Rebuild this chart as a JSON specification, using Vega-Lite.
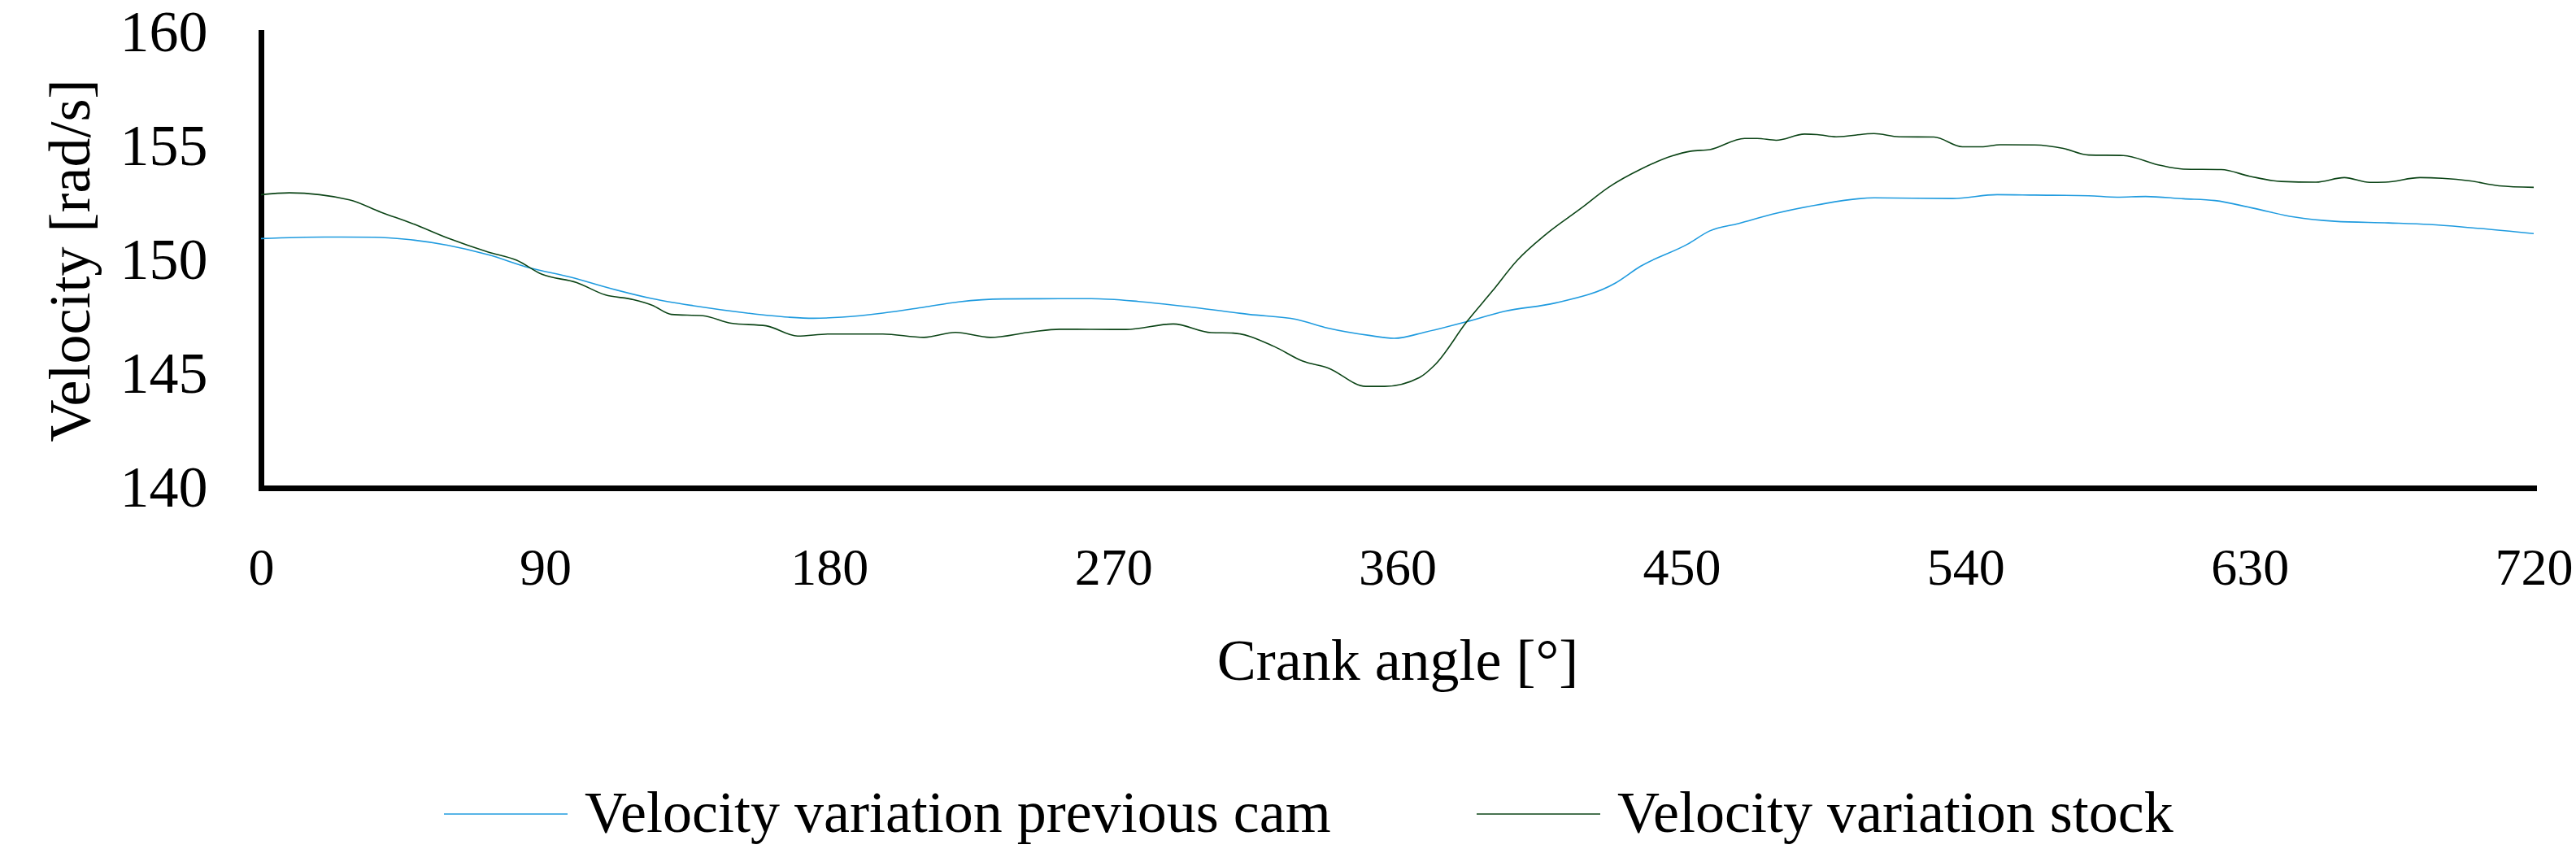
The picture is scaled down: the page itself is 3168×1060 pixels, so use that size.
{
  "$schema": "https://vega.github.io/schema/vega-lite/v6.json",
  "autosize": {"type": "none"},
  "width": 2795,
  "height": 560,
  "padding": {"left": 321, "top": 40, "right": 52, "bottom": 460},
  "background": "#ffffff",
  "data": {
    "values": [
      {"angle": 0, "velocity": 150.95, "series": "Velocity variation previous cam"},
      {"angle": 20, "velocity": 151.02, "series": "Velocity variation previous cam"},
      {"angle": 36, "velocity": 151.01, "series": "Velocity variation previous cam"},
      {"angle": 46, "velocity": 150.92, "series": "Velocity variation previous cam"},
      {"angle": 59, "velocity": 150.66, "series": "Velocity variation previous cam"},
      {"angle": 72, "velocity": 150.24, "series": "Velocity variation previous cam"},
      {"angle": 85, "velocity": 149.67, "series": "Velocity variation previous cam"},
      {"angle": 98, "velocity": 149.26, "series": "Velocity variation previous cam"},
      {"angle": 111, "velocity": 148.75, "series": "Velocity variation previous cam"},
      {"angle": 124, "velocity": 148.31, "series": "Velocity variation previous cam"},
      {"angle": 137, "velocity": 148.0, "series": "Velocity variation previous cam"},
      {"angle": 154, "velocity": 147.68, "series": "Velocity variation previous cam"},
      {"angle": 167, "velocity": 147.5, "series": "Velocity variation previous cam"},
      {"angle": 175, "velocity": 147.45, "series": "Velocity variation previous cam"},
      {"angle": 184, "velocity": 147.5, "series": "Velocity variation previous cam"},
      {"angle": 197, "velocity": 147.68, "series": "Velocity variation previous cam"},
      {"angle": 210, "velocity": 147.94, "series": "Velocity variation previous cam"},
      {"angle": 221, "velocity": 148.17, "series": "Velocity variation previous cam"},
      {"angle": 235, "velocity": 148.3, "series": "Velocity variation previous cam"},
      {"angle": 253, "velocity": 148.31, "series": "Velocity variation previous cam"},
      {"angle": 263, "velocity": 148.31, "series": "Velocity variation previous cam"},
      {"angle": 278, "velocity": 148.19, "series": "Velocity variation previous cam"},
      {"angle": 296, "velocity": 147.92, "series": "Velocity variation previous cam"},
      {"angle": 313, "velocity": 147.62, "series": "Velocity variation previous cam"},
      {"angle": 328, "velocity": 147.4, "series": "Velocity variation previous cam"},
      {"angle": 338, "velocity": 147.02, "series": "Velocity variation previous cam"},
      {"angle": 351, "velocity": 146.7, "series": "Velocity variation previous cam"},
      {"angle": 359, "velocity": 146.57, "series": "Velocity variation previous cam"},
      {"angle": 369, "velocity": 146.85, "series": "Velocity variation previous cam"},
      {"angle": 382, "velocity": 147.3, "series": "Velocity variation previous cam"},
      {"angle": 394, "velocity": 147.76, "series": "Velocity variation previous cam"},
      {"angle": 410, "velocity": 148.12, "series": "Velocity variation previous cam"},
      {"angle": 429, "velocity": 148.99, "series": "Velocity variation previous cam"},
      {"angle": 437, "velocity": 149.73, "series": "Velocity variation previous cam"},
      {"angle": 452, "velocity": 150.71, "series": "Velocity variation previous cam"},
      {"angle": 459, "velocity": 151.29, "series": "Velocity variation previous cam"},
      {"angle": 468, "velocity": 151.61, "series": "Velocity variation previous cam"},
      {"angle": 480, "velocity": 152.06, "series": "Velocity variation previous cam"},
      {"angle": 493, "velocity": 152.43, "series": "Velocity variation previous cam"},
      {"angle": 511, "velocity": 152.74, "series": "Velocity variation previous cam"},
      {"angle": 536, "velocity": 152.71, "series": "Velocity variation previous cam"},
      {"angle": 550, "velocity": 152.88, "series": "Velocity variation previous cam"},
      {"angle": 562, "velocity": 152.86, "series": "Velocity variation previous cam"},
      {"angle": 579, "velocity": 152.83, "series": "Velocity variation previous cam"},
      {"angle": 588, "velocity": 152.77, "series": "Velocity variation previous cam"},
      {"angle": 597, "velocity": 152.8, "series": "Velocity variation previous cam"},
      {"angle": 609, "velocity": 152.7, "series": "Velocity variation previous cam"},
      {"angle": 619, "velocity": 152.62, "series": "Velocity variation previous cam"},
      {"angle": 631, "velocity": 152.29, "series": "Velocity variation previous cam"},
      {"angle": 644, "velocity": 151.9, "series": "Velocity variation previous cam"},
      {"angle": 657, "velocity": 151.71, "series": "Velocity variation previous cam"},
      {"angle": 674, "velocity": 151.64, "series": "Velocity variation previous cam"},
      {"angle": 687, "velocity": 151.57, "series": "Velocity variation previous cam"},
      {"angle": 700, "velocity": 151.43, "series": "Velocity variation previous cam"},
      {"angle": 720, "velocity": 151.17, "series": "Velocity variation previous cam"},
      {"angle": 0, "velocity": 152.88, "series": "Velocity variation stock"},
      {"angle": 9, "velocity": 152.96, "series": "Velocity variation stock"},
      {"angle": 28, "velocity": 152.65, "series": "Velocity variation stock"},
      {"angle": 38, "velocity": 152.11, "series": "Velocity variation stock"},
      {"angle": 48, "velocity": 151.61, "series": "Velocity variation stock"},
      {"angle": 59, "velocity": 150.98, "series": "Velocity variation stock"},
      {"angle": 72, "velocity": 150.36, "series": "Velocity variation stock"},
      {"angle": 81, "velocity": 150.0, "series": "Velocity variation stock"},
      {"angle": 89, "velocity": 149.38, "series": "Velocity variation stock"},
      {"angle": 100, "velocity": 149.02, "series": "Velocity variation stock"},
      {"angle": 109, "velocity": 148.48, "series": "Velocity variation stock"},
      {"angle": 118, "velocity": 148.27, "series": "Velocity variation stock"},
      {"angle": 124, "velocity": 148.02, "series": "Velocity variation stock"},
      {"angle": 130, "velocity": 147.62, "series": "Velocity variation stock"},
      {"angle": 140, "velocity": 147.56, "series": "Velocity variation stock"},
      {"angle": 149, "velocity": 147.23, "series": "Velocity variation stock"},
      {"angle": 160, "velocity": 147.12, "series": "Velocity variation stock"},
      {"angle": 170, "velocity": 146.67, "series": "Velocity variation stock"},
      {"angle": 180, "velocity": 146.76, "series": "Velocity variation stock"},
      {"angle": 197, "velocity": 146.76, "series": "Velocity variation stock"},
      {"angle": 210, "velocity": 146.61, "series": "Velocity variation stock"},
      {"angle": 220, "velocity": 146.83, "series": "Velocity variation stock"},
      {"angle": 231, "velocity": 146.61, "series": "Velocity variation stock"},
      {"angle": 244, "velocity": 146.85, "series": "Velocity variation stock"},
      {"angle": 253, "velocity": 146.97, "series": "Velocity variation stock"},
      {"angle": 274, "velocity": 146.96, "series": "Velocity variation stock"},
      {"angle": 289, "velocity": 147.2, "series": "Velocity variation stock"},
      {"angle": 301, "velocity": 146.82, "series": "Velocity variation stock"},
      {"angle": 308, "velocity": 146.8, "series": "Velocity variation stock"},
      {"angle": 321, "velocity": 146.21, "series": "Velocity variation stock"},
      {"angle": 330, "velocity": 145.57, "series": "Velocity variation stock"},
      {"angle": 338, "velocity": 145.27, "series": "Velocity variation stock"},
      {"angle": 350, "velocity": 144.46, "series": "Velocity variation stock"},
      {"angle": 356, "velocity": 144.46, "series": "Velocity variation stock"},
      {"angle": 367, "velocity": 144.85, "series": "Velocity variation stock"},
      {"angle": 372, "velocity": 145.42, "series": "Velocity variation stock"},
      {"angle": 382, "velocity": 147.3, "series": "Velocity variation stock"},
      {"angle": 390, "velocity": 148.63, "series": "Velocity variation stock"},
      {"angle": 398, "velocity": 150.0, "series": "Velocity variation stock"},
      {"angle": 407, "velocity": 151.13, "series": "Velocity variation stock"},
      {"angle": 418, "velocity": 152.26, "series": "Velocity variation stock"},
      {"angle": 427, "velocity": 153.21, "series": "Velocity variation stock"},
      {"angle": 437, "velocity": 153.99, "series": "Velocity variation stock"},
      {"angle": 447, "velocity": 154.58, "series": "Velocity variation stock"},
      {"angle": 453, "velocity": 154.79, "series": "Velocity variation stock"},
      {"angle": 459, "velocity": 154.86, "series": "Velocity variation stock"},
      {"angle": 470, "velocity": 155.35, "series": "Velocity variation stock"},
      {"angle": 474, "velocity": 155.35, "series": "Velocity variation stock"},
      {"angle": 480, "velocity": 155.27, "series": "Velocity variation stock"},
      {"angle": 489, "velocity": 155.54, "series": "Velocity variation stock"},
      {"angle": 493, "velocity": 155.52, "series": "Velocity variation stock"},
      {"angle": 499, "velocity": 155.42, "series": "Velocity variation stock"},
      {"angle": 511, "velocity": 155.56, "series": "Velocity variation stock"},
      {"angle": 519, "velocity": 155.42, "series": "Velocity variation stock"},
      {"angle": 530, "velocity": 155.41, "series": "Velocity variation stock"},
      {"angle": 539, "velocity": 154.98, "series": "Velocity variation stock"},
      {"angle": 545, "velocity": 154.98, "series": "Velocity variation stock"},
      {"angle": 551, "velocity": 155.07, "series": "Velocity variation stock"},
      {"angle": 562, "velocity": 155.06, "series": "Velocity variation stock"},
      {"angle": 571, "velocity": 154.91, "series": "Velocity variation stock"},
      {"angle": 579, "velocity": 154.62, "series": "Velocity variation stock"},
      {"angle": 590, "velocity": 154.6, "series": "Velocity variation stock"},
      {"angle": 601, "velocity": 154.19, "series": "Velocity variation stock"},
      {"angle": 609, "velocity": 154.0, "series": "Velocity variation stock"},
      {"angle": 621, "velocity": 153.98, "series": "Velocity variation stock"},
      {"angle": 630, "velocity": 153.69, "series": "Velocity variation stock"},
      {"angle": 640, "velocity": 153.46, "series": "Velocity variation stock"},
      {"angle": 651, "velocity": 153.43, "series": "Velocity variation stock"},
      {"angle": 660, "velocity": 153.63, "series": "Velocity variation stock"},
      {"angle": 668, "velocity": 153.42, "series": "Velocity variation stock"},
      {"angle": 673, "velocity": 153.43, "series": "Velocity variation stock"},
      {"angle": 684, "velocity": 153.63, "series": "Velocity variation stock"},
      {"angle": 691, "velocity": 153.6, "series": "Velocity variation stock"},
      {"angle": 700, "velocity": 153.48, "series": "Velocity variation stock"},
      {"angle": 709, "velocity": 153.27, "series": "Velocity variation stock"},
      {"angle": 720, "velocity": 153.2, "series": "Velocity variation stock"}
    ]
  },
  "mark": {"type": "line", "interpolate": "monotone", "strokeWidth": 1.6},
  "encoding": {
    "x": {
      "field": "angle",
      "type": "quantitative",
      "scale": {"domain": [0, 720], "nice": false},
      "axis": {
        "title": "Crank angle [°]",
        "values": [0, 90, 180, 270, 360, 450, 540, 630, 720],
        "labelFontSize": 64,
        "labelPadding": 67,
        "titleY": 235,
        "titleBaseline": "alphabetic"
      }
    },
    "y": {
      "field": "velocity",
      "type": "quantitative",
      "scale": {"domain": [140, 160], "nice": false, "zero": false},
      "axis": {
        "title": "Velocity [rad/s]",
        "values": [140, 145, 150, 155, 160],
        "labelFontSize": 72,
        "labelPadding": 66,
        "titleX": -212,
        "titleY": 280,
        "titleAngle": -90,
        "titleBaseline": "alphabetic",
        "titleAlign": "center"
      }
    },
    "color": {
      "field": "series",
      "type": "nominal",
      "scale": {
        "domain": ["Velocity variation previous cam", "Velocity variation stock"],
        "range": ["#1f9bdf", "#0b4416"]
      },
      "legend": {
        "title": null,
        "orient": "none",
        "direction": "horizontal",
        "legendX": 224,
        "legendY": 884,
        "symbolType": "stroke",
        "symbolSize": 23104,
        "symbolStrokeWidth": 1.6,
        "labelOffset": 20,
        "columnPadding": 175,
        "labelLimit": 2000,
        "labelFontSize": 72,
        "labelFont": "Liberation Serif",
        "labelColor": "#000000",
        "padding": 0
      }
    }
  },
  "config": {
    "font": "Liberation Serif",
    "axis": {
      "labelFont": "Liberation Serif",
      "titleFont": "Liberation Serif",
      "labelFontSize": 72,
      "titleFontSize": 72,
      "titleFontWeight": "normal",
      "labelColor": "#000000",
      "titleColor": "#000000",
      "domainColor": "#000000",
      "domainWidth": 7,
      "domainCap": "square",
      "ticks": false,
      "tickSize": 0,
      "grid": false,
      "labelFlush": false,
      "labelOverlap": false
    },
    "view": {"stroke": null}
  }
}
